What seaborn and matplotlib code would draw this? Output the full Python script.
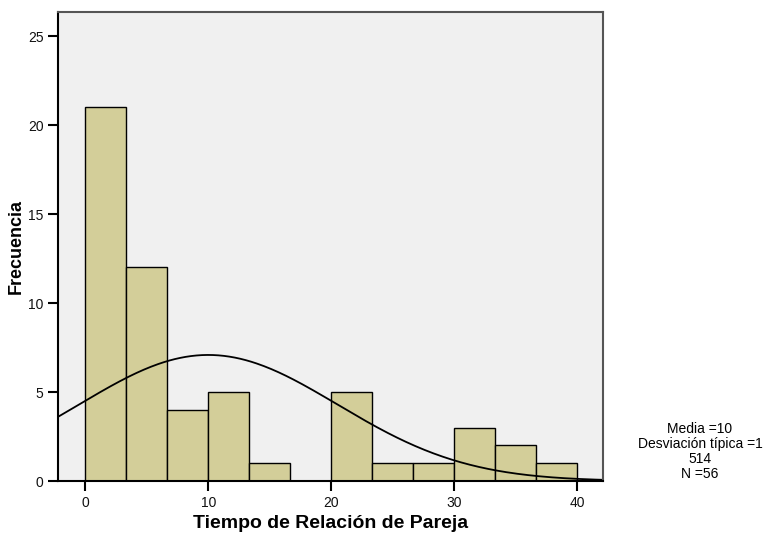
import numpy as np
import pandas as pd
import matplotlib
matplotlib.use('Agg')
import matplotlib.pyplot as plt
import seaborn as sns

bin_edges = [0, 3.333, 6.667, 10, 13.333, 16.667, 20, 23.333, 26.667, 30, 33.333, 36.667, 40]
frecuencias = [21, 12, 4, 5, 1, 0, 5, 1, 1, 3, 2, 1]
media = 10.0
desviacion = 10.514
n_total = 56
x_ticks = [0, 10, 20, 30, 40]
y_ticks = [0, 5, 10, 15, 20, 25]

sns.set_style('white')
plt.rcParams['font.family'] = ['Liberation Sans', 'DejaVu Sans']
plt.rcParams['text.color'] = 'black'
plt.rcParams['axes.labelcolor'] = 'black'

centros = [(a + b) / 2 for a, b in zip(bin_edges[:-1], bin_edges[1:])]
df = pd.DataFrame({'tiempo': centros, 'frecuencia': frecuencias})

fig = plt.figure(figsize=(7.65, 5.35), dpi=100)
ax = fig.add_axes([0.0758, 0.1009, 0.7124, 0.8767])
ax.set_facecolor('#F0F0F0')

sns.histplot(data=df, x='tiempo', weights='frecuencia', bins=bin_edges,
             color='#D3CE99', edgecolor='black', linewidth=1.0, alpha=1.0, ax=ax)

# curva normal
ancho = bin_edges[1] - bin_edges[0]
xs = np.linspace(-2.22, 42.1, 300)
ys = n_total * ancho / (desviacion * np.sqrt(2 * np.pi)) * np.exp(-0.5 * ((xs - media) / desviacion) ** 2)
sns.lineplot(x=xs, y=ys, color='black', linewidth=1.3, ax=ax)

ax.set_xlim(-2.22, 42.1)
ax.set_ylim(0, 26.35)
ax.set_xticks(x_ticks)
ax.set_yticks(y_ticks)
ax.tick_params(axis='both', direction='out', length=7, width=1.5, color='black',
               labelsize=10, labelcolor='#111111', bottom=True, left=True)

for lado in ['left', 'bottom']:
    ax.spines[lado].set_color('black')
    ax.spines[lado].set_linewidth(1.5)
for lado in ['top', 'right']:
    ax.spines[lado].set_color('#555555')
    ax.spines[lado].set_linewidth(1.5)

ax.set_xlabel('Tiempo de Relación de Pareja', fontsize=14, fontweight='bold', labelpad=4)
ax.set_ylabel('Frecuencia', fontsize=13, fontweight='bold', labelpad=2)

fig.text(0.915, 0.156, 'Media =10\nDesviación típica =1\n514\nN =56',
         ha='center', va='center', fontsize=10, linespacing=1.1)

fig.savefig('out.png', dpi=100)
